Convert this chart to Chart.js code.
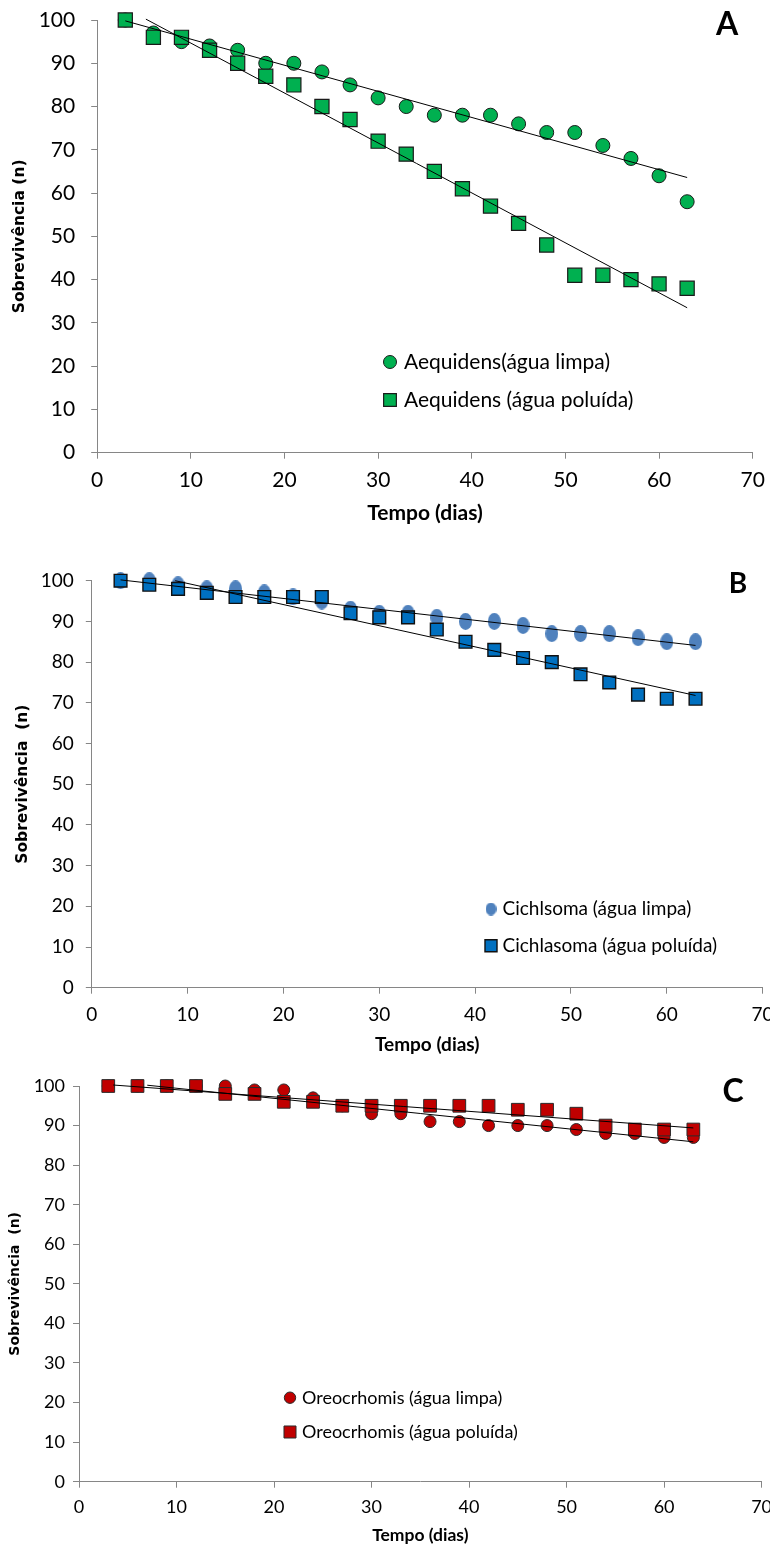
<!DOCTYPE html>
<html>
<head>
<meta charset="utf-8">
<script src="https://cdn.jsdelivr.net/npm/chart.js@4.4.1/dist/chart.umd.min.js"></script>
<style>
  html, body { margin: 0; padding: 0; background: #fff; overflow: hidden; }
  body { width: 770px; height: 1547px; position: relative; }
  canvas { position: absolute; left: 0; }
</style>
</head>
<body>
<canvas id="chartA" width="770" height="530" style="top:0px"></canvas>
<canvas id="chartB" width="790" height="525" style="top:535px"></canvas>
<canvas id="chartC" width="790" height="487" style="top:1060px"></canvas>
<script>
const days = [3, 6, 9, 12, 15, 18, 21, 24, 27, 30, 33, 36, 39, 42, 45, 48, 51, 54, 57, 60, 63];
const xTicks = [0, 10, 20, 30, 40, 50, 60, 70];
const yTicks = [0, 10, 20, 30, 40, 50, 60, 70, 80, 90, 100];

// A - Aequidens
const aequidensLimpa = [100, 97, 95, 94, 93, 90, 90, 88, 85, 82, 80, 78, 78, 78, 76, 74, 74, 71, 68, 64, 58];
const aequidensPoluida = [100, 96, 96, 93, 90, 87, 85, 80, 77, 72, 69, 65, 61, 57, 53, 48, 41, 41, 40, 39, 38];
const aequidensLimpaTrend = [[3, 99.8], [63, 63.6]];
const aequidensPoluidaTrend = [[5.2, 100.2], [63, 33.5]];

// B - Cichlasoma
const cichlasomaLimpa = [100, 100, 99, 98, 98, 97, 96, 95, 93, 92, 92, 91, 90, 90, 89, 87, 87, 87, 86, 85, 85];
const cichlasomaPoluida = [100, 99, 98, 97, 96, 96, 96, 96, 92, 91, 91, 88, 85, 83, 81, 80, 77, 75, 72, 71, 71];
const cichlasomaLimpaTrend = [[3, 100.2], [63, 84.1]];
const cichlasomaPoluidaTrend = [[8.7, 100], [63, 71.8]];

// C - Oreochromis
const oreochromisLimpa = [100, 100, 100, 100, 100, 99, 99, 97, 95, 93, 93, 91, 91, 90, 90, 90, 89, 88, 88, 87, 87];
const oreochromisPoluida = [100, 100, 100, 100, 98, 98, 96, 96, 95, 95, 95, 95, 95, 95, 94, 94, 93, 90, 89, 89, 89];
const oreochromisLimpaTrend = [[7, 100.2], [63, 85.9]];
const oreochromisPoluidaTrend = [[3.5, 100.25], [63, 89.4]];

const AXIS_GRAY = "#868686";

function toPoints(xs, ys) {
  return xs.map((x, i) => ({ x: x, y: ys[i] }));
}

function trendPoints(pairs) {
  return pairs.map(([x, y]) => ({ x: x, y: y }));
}

// Excel-like squashed circle for the Cichlasoma clean-water series
function ellipseMarker(w, h, color) {
  const c = document.createElement("canvas");
  c.width = w;
  c.height = h;
  const g = c.getContext("2d");
  g.fillStyle = color;
  g.beginPath();
  g.ellipse(w / 2, h / 2, w / 2, h / 2, 0, 0, Math.PI * 2);
  g.fill();
  return c;
}

// Draws the panel letter and the in-plot legend
const panelExtras = {
  id: "panelExtras",
  afterDraw(chart, args, opts) {
    const ctx = chart.ctx;
    ctx.save();
    ctx.fillStyle = "#000";
    ctx.font = "bold " + opts.letterSize + "px Lato";
    ctx.textAlign = "center";
    ctx.textBaseline = "alphabetic";
    ctx.fillText(opts.letter, opts.letterX, opts.letterY);

    ctx.font = opts.legendSize + "px Lato";
    ctx.textAlign = "left";
    ctx.textBaseline = "middle";
    opts.items.forEach((item, i) => {
      const y = opts.legendY + i * opts.legendGap;
      ctx.fillStyle = item.fill;
      ctx.strokeStyle = item.stroke;
      ctx.lineWidth = item.lineWidth;
      Chart.helpers.drawPoint(ctx, {
        pointStyle: item.style,
        radius: item.radius,
        borderWidth: item.lineWidth,
        rotation: 0,
      }, opts.legendX, y);
      ctx.fillStyle = "#000";
      ctx.fillText(item.label, opts.textX, y);
    });
    ctx.restore();
  },
};

function markerSet(label, xs, ys, style, radius, fill, stroke, lineWidth) {
  return {
    label: label,
    data: toPoints(xs, ys),
    showLine: false,
    pointStyle: style,
    pointRadius: radius,
    pointHoverRadius: radius,
    pointBackgroundColor: fill,
    pointBorderColor: stroke,
    pointBorderWidth: lineWidth,
    clip: false,
  };
}

function trendSet(pairs) {
  return {
    label: "",
    data: trendPoints(pairs),
    showLine: true,
    borderColor: "#000",
    borderWidth: 1,
    pointRadius: 0,
    clip: false,
  };
}

function buildPanel(canvasId, p) {
  const ctx = document.getElementById(canvasId).getContext("2d");
  return new Chart(ctx, {
    type: "scatter",
    data: { datasets: p.datasets },
    options: {
      responsive: false,
      animation: false,
      events: [],
      layout: {
        padding: { left: 0, top: p.padTop, right: p.padRight, bottom: p.padBottom },
      },
      plugins: {
        legend: { display: false },
        tooltip: { enabled: false },
        panelExtras: p.extras,
      },
      scales: {
        x: {
          type: "linear",
          min: 0,
          max: 70,
          afterBuildTicks: (s) => { s.ticks = xTicks.map((v) => ({ value: v })); },
          afterFit: (s) => {
            s.height = p.xHeight;
            // keep the plot box where the layout padding puts it
            s.paddingLeft = 0;
            s.paddingRight = 0;
          },
          ticks: {
            font: { family: "Lato", size: p.tickSize },
            color: "#000",
            padding: p.xTickPad,
            maxRotation: 0,
          },
          grid: { display: true, drawOnChartArea: false, drawTicks: true, tickLength: 6, color: AXIS_GRAY },
          border: { color: AXIS_GRAY, width: 1 },
          title: {
            display: true,
            text: "Tempo (dias)",
            color: "#000",
            font: { family: "Lato", weight: "bold", size: p.xTitleSize, lineHeight: 1 },
            padding: { top: 0, bottom: 0 },
          },
        },
        y: {
          type: "linear",
          min: 0,
          max: 100,
          afterBuildTicks: (s) => { s.ticks = yTicks.map((v) => ({ value: v })); },
          afterFit: (s) => {
            s.width = p.yWidth;
            s.paddingTop = 0;
            s.paddingBottom = 0;
          },
          ticks: {
            font: { family: "Lato", size: p.tickSize },
            color: "#000",
            padding: p.yTickPad,
          },
          grid: { display: true, drawOnChartArea: false, drawTicks: true, tickLength: 6, color: AXIS_GRAY },
          border: { color: AXIS_GRAY, width: 1 },
          title: {
            display: true,
            text: p.yTitle,
            color: "#000",
            font: { family: "DejaVu Sans", weight: "bold", size: p.yTitleSize, lineHeight: 1 },
            padding: { top: p.yTitlePad, bottom: 0 },
          },
        },
      },
    },
    plugins: [panelExtras],
  });
}

// Panel A
const greenA = "#00B050";
buildPanel("chartA", {
  datasets: [
    trendSet(aequidensLimpaTrend),
    trendSet(aequidensPoluidaTrend),
    markerSet("Aequidens (água poluída)", days, aequidensPoluida, "rect", 10, greenA, "#1a1a1a", 1.2),
    markerSet("Aequidens(água limpa)", days, aequidensLimpa, "circle", 7, greenA, "#1a1a1a", 1),
  ],
  padTop: 20, padRight: 17.3, padBottom: 6.3,
  xHeight: 71, yWidth: 97.2,
  tickSize: 21, xTickPad: 9.2, yTickPad: 16,
  xTitleSize: 21,
  yTitle: "Sobrevivência (n)", yTitleSize: 15.5, yTitlePad: 12.25,
  extras: {
    letter: "A", letterSize: 32, letterX: 727, letterY: 34.8,
    legendSize: 21, legendX: 390, legendY: 362, legendGap: 38, textX: 404,
    items: [
      { label: "Aequidens(água limpa)", style: "circle", radius: 6.5, fill: greenA, stroke: "#1a1a1a", lineWidth: 1 },
      { label: "Aequidens (água poluída)", style: "rect", radius: 9, fill: greenA, stroke: "#1a1a1a", lineWidth: 1.2 },
    ],
  },
});

// Panel B
const blueB = "#0070C0";
const lightBlueB = "#4F81BD";
buildPanel("chartB", {
  datasets: [
    trendSet(cichlasomaLimpaTrend),
    trendSet(cichlasomaPoluidaTrend),
    markerSet("Cichlasoma (água poluída)", days, cichlasomaPoluida, "rect", 9, blueB, "#111", 1.4),
    markerSet("Cichlsoma (água limpa)", days, cichlasomaLimpa, ellipseMarker(13, 17, lightBlueB), 7, lightBlueB, lightBlueB, 0),
  ],
  padTop: 45.7, padRight: 27.4, padBottom: 5.3,
  xHeight: 67, yWidth: 91.8,
  tickSize: 19, xTickPad: 9.6, yTickPad: 12,
  xTitleSize: 19,
  yTitle: "Sobrevivência  (n)", yTitleSize: 15.5, yTitlePad: 15.25,
  extras: {
    letter: "B", letterSize: 28, letterX: 738, letterY: 58.3,
    legendSize: 19, legendX: 491, legendY: 374, legendGap: 36.7, textX: 502.5,
    items: [
      { label: "Cichlsoma (água limpa)", style: ellipseMarker(11, 13, lightBlueB), radius: 6, fill: lightBlueB, stroke: lightBlueB, lineWidth: 0 },
      { label: "Cichlasoma (água poluída)", style: "rect", radius: 8.5, fill: blueB, stroke: "#111", lineWidth: 1.4 },
    ],
  },
});

// Panel C
const redC = "#C00000";
buildPanel("chartC", {
  datasets: [
    trendSet(oreochromisLimpaTrend),
    trendSet(oreochromisPoluidaTrend),
    markerSet("Oreocrhomis (água poluída)", days, oreochromisPoluida, "rect", 9, redC, "#2a2a2a", 1),
    markerSet("Oreocrhomis (água limpa)", days, oreochromisLimpa, "circle", 6, redC, "#2a2a2a", 1),
  ],
  padTop: 26, padRight: 28.4, padBottom: 3.3,
  xHeight: 62, yWidth: 79,
  tickSize: 18, xTickPad: 8.8, yTickPad: 8,
  xTitleSize: 17.5,
  yTitle: "Sobrevivência  (n)", yTitleSize: 14, yTitlePad: 8.5,
  extras: {
    letter: "C", letterSize: 32, letterX: 733, letterY: 41.5,
    legendSize: 18, legendX: 290, legendY: 337.7, legendGap: 34.3, textX: 302,
    items: [
      { label: "Oreocrhomis (água limpa)", style: "circle", radius: 5.7, fill: redC, stroke: "#2a2a2a", lineWidth: 1 },
      { label: "Oreocrhomis (água poluída)", style: "rect", radius: 8.5, fill: redC, stroke: "#2a2a2a", lineWidth: 1 },
    ],
  },
});
</script>
</body>
</html>
